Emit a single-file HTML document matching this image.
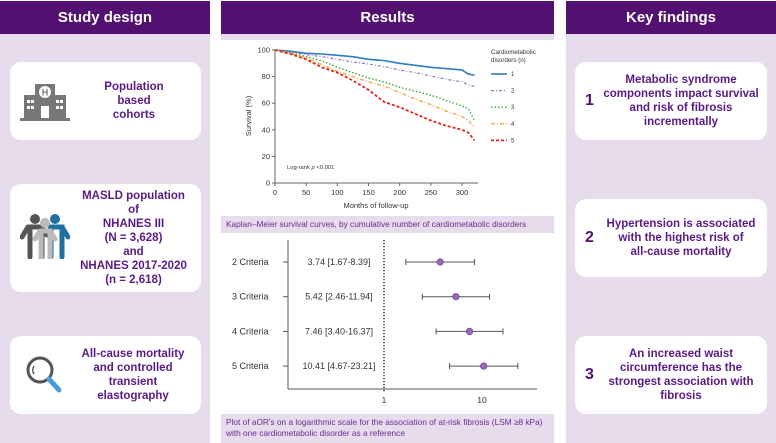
<!DOCTYPE html>
<html><head><meta charset="utf-8">
<style>
*{margin:0;padding:0;box-sizing:border-box}
body{width:776px;height:443px;position:relative;background:#fff;font-family:"Liberation Sans",Arial,sans-serif;overflow:hidden}
.hdr{position:absolute;top:1px;height:33px;background:#521070;color:#fff;font-weight:bold;font-size:15px;text-align:center;line-height:33px}
.panel{position:absolute;top:34px;background:#e6dcec}
.card{position:absolute;background:#fff;border-radius:11px;color:#5a1a86;font-weight:bold;font-size:11.5px;line-height:14px;text-align:center;display:flex;align-items:center}
.num{position:absolute;left:10px;font-size:16px;color:#521070}
.cap{position:absolute;left:221px;width:333px;background:#e6dcec;color:#6a2a92;font-size:8.3px;line-height:10.5px;padding:3px 5px}
</style></head><body>
<div class="hdr" style="left:0;width:210px">Study design</div>
<div class="hdr" style="left:221px;width:333px">Results</div>
<div class="hdr" style="left:566px;width:210px">Key findings</div>
<div class="panel" style="left:0;width:210px;height:409px"></div>
<div class="panel" style="left:221px;width:333px;height:6px"></div>
<div class="panel" style="left:566px;width:210px;height:409px"></div>

<div class="card" style="left:10px;top:62px;width:191px;height:78px">
<svg width="50" height="40" style="position:absolute;left:10px;top:20px" viewBox="0 0 50 40"><g fill="#777"><rect x="4" y="13" width="14" height="25"/><rect x="32" y="13" width="14" height="25"/><rect x="15" y="2" width="20" height="36"/><rect x="0" y="36" width="50" height="3"/></g><circle cx="25" cy="10" r="6" fill="#fff"/><text x="25" y="13.5" font-size="9" font-weight="bold" text-anchor="middle" fill="#777" font-family="Liberation Sans">H</text><rect x="21" y="24" width="8" height="12" fill="#fff"/><g fill="#fff"><rect x="7" y="18" width="3" height="3"/><rect x="11" y="18" width="3" height="3"/><rect x="7" y="24" width="3" height="3"/><rect x="11" y="24" width="3" height="3"/><rect x="36" y="18" width="3" height="3"/><rect x="40" y="18" width="3" height="3"/><rect x="36" y="24" width="3" height="3"/><rect x="40" y="24" width="3" height="3"/></g></svg>
<div style="position:absolute;left:79px;width:90px">Population<br>based<br>cohorts</div></div>

<div class="card" style="left:10px;top:184px;width:191px;height:108px">
<svg width="50" height="45" style="position:absolute;left:10px;top:30px" viewBox="0 0 50 45"><g stroke-linecap="round"><circle cx="15" cy="5" r="5" fill="#555"/><path d="M8 13h14v30M10 13v30M8 13l-6 10M22 13l5 8" stroke="#555" stroke-width="5" fill="none"/><circle cx="35" cy="5" r="5" fill="#1f6fa3"/><path d="M30 13h12v30M31 13v30M42 13l6 10" stroke="#1f6fa3" stroke-width="5" fill="none"/><circle cx="25" cy="9" r="5" fill="#bbb"/><path d="M20 17h10v27M21 17v27M20 17l-5 8M30 17l5 8" stroke="#bbb" stroke-width="5" fill="none"/></g></svg>
<div style="position:absolute;left:66px;width:115px">MASLD population<br>of<br>NHANES III<br>(N = 3,628)<br>and<br>NHANES 2017-2020<br>(n = 2,618)</div></div>

<div class="card" style="left:10px;top:336px;width:191px;height:78px">
<svg width="40" height="42" style="position:absolute;left:14px;top:18px" viewBox="0 0 40 42"><circle cx="16" cy="16" r="12" fill="none" stroke="#555" stroke-width="3"/><path d="M10 12a7 7 0 0 0 0 8" stroke="#555" stroke-width="1.5" fill="none"/><path d="M25 25l10 11" stroke="#4a9dd6" stroke-width="5" stroke-linecap="round"/></svg>
<div style="position:absolute;left:68px;width:110px">All-cause mortality<br>and controlled<br>transient<br>elastography</div></div>

<div class="card" style="left:575px;top:62px;width:192px;height:78px"><span class="num">1</span><div style="position:absolute;left:26px;width:160px">Metabolic syndrome<br>components impact survival<br>and risk of fibrosis<br>incrementally</div></div>
<div class="card" style="left:575px;top:199px;width:192px;height:78px"><span class="num">2</span><div style="position:absolute;left:26px;width:160px">Hypertension is associated<br>with the highest risk of<br>all-cause mortality</div></div>
<div class="card" style="left:575px;top:336px;width:192px;height:78px"><span class="num">3</span><div style="position:absolute;left:26px;width:160px">An increased waist<br>circumference has the<br>strongest association with<br>fibrosis</div></div>

<div class="cap" style="top:216px;height:17px">Kaplan–Meier survival curves, by cumulative number of cardiometabolic disorders</div>
<div class="cap" style="top:414px;height:29px">Plot of aOR's on a logarithmic scale for the association of at-risk fibrosis (LSM ≥8 kPa) with one cardiometabolic disorder as a reference</div>

<svg id="km" width="333" height="176" style="position:absolute;left:221px;top:40px" font-family="Liberation Sans"></svg>
<svg id="fp" width="333" height="175" style="position:absolute;left:221px;top:237px" font-family="Liberation Sans"></svg>

<script>
const months=[0,25,50,75,100,125,150,175,200,225,250,275,300,310,320];
const s1=[100,99,97.5,97,96,95,93,92,90,88.5,87,86,85,82,81];
const s2=[100,98.5,96.5,95,93,91,89.5,87.5,85,83,80.5,78,76,74,72.5];
const s3=[100,98,95,92,87,83,79,76,72,69,66,62,58,56,47];
const s4=[100,97.5,94,89,84,80,76,73,68,63,59,54,50,47,42];
const s5=[100,97,93,87,83,77,70,61,57,52,47,43,40,38,32];
const xTicks=[0,50,100,150,200,250,300];
const yTicks=[0,20,40,60,80,100];
const seriesNames=["1","2","3","4","5"];
const NS="http://www.w3.org/2000/svg";
function mk(p,t,a){const e=document.createElementNS(NS,t);for(const k in a)e.setAttribute(k,a[k]);p.appendChild(e);return e;}
const km=document.getElementById('km');
const X=m=>54+m*(187/300), Y=v=>143-v*1.33;
mk(km,'line',{x1:54,y1:143,x2:257,y2:143,stroke:'#666'});
mk(km,'line',{x1:54,y1:143,x2:54,y2:10,stroke:'#666'});
xTicks.forEach(t=>{mk(km,'line',{x1:X(t),y1:143,x2:X(t),y2:146,stroke:'#666'});
 const tx=mk(km,'text',{x:X(t),y:155,'font-size':7.5,'text-anchor':'middle',fill:'#333'});tx.textContent=t;
 
 });
yTicks.forEach(t=>{mk(km,'line',{x1:51,y1:Y(t),x2:54,y2:Y(t),stroke:'#666'});
 const tx=mk(km,'text',{x:49,y:Y(t)+2.5,'font-size':7.5,'text-anchor':'end',fill:'#333'});tx.textContent=t;
 
 });
let t=mk(km,'text',{x:155,y:168,'font-size':7.5,'text-anchor':'middle',fill:'#333'});t.textContent='Months of follow-up';


t=mk(km,'text',{x:0,y:0,'font-size':7.5,'text-anchor':'middle',fill:'#333',transform:'translate(30,76) rotate(-90)'});t.textContent='Survival (%)';


t=mk(km,'text',{x:66,y:129,'font-size':5.8,fill:'#333'});t.innerHTML='Log-rank <tspan font-style="italic">p</tspan> &lt;0.001';


const cols=['#2b7bbf','#9b72c2','#3aa93a','#f4a94b','#e2261c'];
const dashes=['','3 2 1 2','1.5 2','4 2 1 2','3 2'];
const widths=[1.6,1.2,1.4,1.4,1.8];
[s1,s2,s3,s4,s5].forEach((s,i)=>{
 const d=s.map((v,j)=>(j?'L':'M')+X(months[j])+' '+Y(v)).join(' ');
 const p=mk(km,'path',{d:d,fill:'none',stroke:cols[i],'stroke-width':widths[i],'stroke-dasharray':dashes[i]});
 
 
 const ly=34+i*16.6;
 const l=mk(km,'line',{x1:270,y1:ly,x2:286,y2:ly,stroke:cols[i],'stroke-width':widths[i],'stroke-dasharray':dashes[i]});
 
 
 const lt=mk(km,'text',{x:290,y:ly+2,'font-size':6,fill:'#333'});lt.textContent=seriesNames[i];
 
 
});
t=mk(km,'text',{x:270,y:14,'font-size':6.2,fill:'#333'});t.textContent='Cardiometabolic';


t=mk(km,'text',{x:270,y:22,'font-size':6.2,fill:'#333'});t.textContent='disorders (n)';



// forest plot
const criteria=["2 Criteria","3 Criteria","4 Criteria","5 Criteria"];
const orValues=[3.74,5.42,7.46,10.41];
const ciLow=[1.67,2.46,3.40,4.67];
const ciHigh=[8.39,11.94,16.37,23.21];
const orLabels=["3.74 [1.67-8.39]","5.42 [2.46-11.94]","7.46 [3.40-16.37]","10.41 [4.67-23.21]"];
const logTicks=[1,10];
const fp=document.getElementById('fp');
const FX=v=>163+98*Math.log10(v), FY=i=>25+i*34.7;
mk(fp,'line',{x1:67,y1:3,x2:67,y2:152,stroke:'#555','stroke-width':1});
mk(fp,'line',{x1:67,y1:152,x2:316,y2:152,stroke:'#555','stroke-width':1});
mk(fp,'line',{x1:FX(1),y1:3,x2:FX(1),y2:155,stroke:'#222','stroke-width':1.4,'stroke-dasharray':'1.2 1.8'});
logTicks.forEach(v=>{const tx=mk(fp,'text',{x:FX(v),y:166,'font-size':8.5,'text-anchor':'middle',fill:'#333'});tx.textContent=v;
 
 });
criteria.forEach((c,i)=>{
 const y=FY(i);
 mk(fp,'line',{x1:62,y1:y,x2:67,y2:y,stroke:'#555'});
 let a=mk(fp,'text',{x:11,y:y+3,'font-size':9,fill:'#333'});a.textContent=c;
 
 
 a=mk(fp,'text',{x:118,y:y+3,'font-size':9,'text-anchor':'middle',fill:'#333'});a.textContent=orLabels[i];
 
 
 const g=mk(fp,'g',{});
 
 
 mk(g,'line',{x1:FX(ciLow[i]),y1:y,x2:FX(ciHigh[i]),y2:y,stroke:'#555','stroke-width':1});
 mk(g,'line',{x1:FX(ciLow[i]),y1:y-3,x2:FX(ciLow[i]),y2:y+3,stroke:'#555'});
 mk(g,'line',{x1:FX(ciHigh[i]),y1:y-3,x2:FX(ciHigh[i]),y2:y+3,stroke:'#555'});
 mk(g,'circle',{cx:FX(orValues[i]),cy:y,r:3.3,fill:'#9866b8',stroke:'#6c3f8e','stroke-width':0.6});
});
</script>
</body></html>
